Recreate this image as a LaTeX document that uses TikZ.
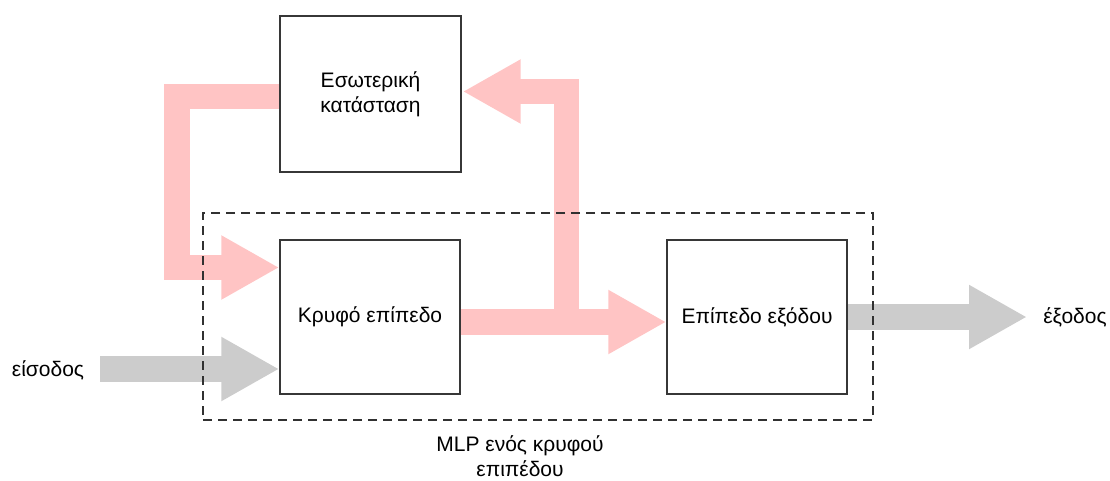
\documentclass[tikz,border=0pt]{standalone}
\usepackage{fontspec}
\setmainfont{Liberation Sans}
\usetikzlibrary{arrows.meta,calc,backgrounds}
\definecolor{flowpink}{RGB}{255,196,196}
\definecolor{flowgray}{RGB}{204,204,204}
\definecolor{edge}{RGB}{55,55,55}
\tikzset{
  block/.style={draw=edge,line width=1.4pt,fill=white,inner sep=0pt,
    align=center,font=\fontsize{21}{25}\selectfont},
  label/.style={inner sep=0pt,align=center,font=\fontsize{21}{25}\selectfont},
  mlpframe/.style={draw=edge!90!black,line width=1.3pt,dash pattern=on 9pt off 6pt,inner sep=0pt},
  fatarrow/.style={line width=25.5pt,line join=miter,
    -{Triangle[length=58pt,width=60pt]}},
  pinkflow/.style={fatarrow,draw=flowpink},
  grayflow/.style={fatarrow,draw=flowgray}
}
\begin{document}
\begin{tikzpicture}[x=1pt,y=-1pt]
  \useasboundingbox (0,0) rectangle (1110,480);

  % blocks
  \node[block,minimum width=181pt,minimum height=156pt] (state) at (370.5,94)
    {Εσωτερική\\κατάσταση};
  \node[block,minimum width=180pt,minimum height=154pt] (hidden) at (370,317)
    {Κρυφό επίπεδο};
  \node[block,minimum width=180pt,minimum height=154pt] (output) at (757,317)
    {Επίπεδο εξόδου};

  % the MLP frame around both layers
  \node[mlpframe,minimum width=670pt,minimum height=207pt] (mlp) at (538,316.5) {};
  \node[label] (mlplabel) at (520,456) {MLP ενός κρυφού\\επιπέδου};

  % external input and output
  \node[label] (intext) at (48,370) {είσοδος};
  \node[label] (outtext) at (1075,317) {έξοδος};
  \coordinate (instart) at (100,369);
  \coordinate (outend) at (1027,317);

  % bends of the recurrent paths
  \coordinate (loopL) at (177,96.5);
  \coordinate (loopB) at (177,267.5);
  \coordinate (branchB) at (566.5,322);
  \coordinate (branchT) at (566.5,91.5);

  \begin{scope}[on background layer]
    % state fed back into the hidden layer
    \draw[pinkflow] ($(state.west)+(0,2.5)$) -- (loopL) -- (loopB)
      -- ($(hidden.west)+(0,-49.5)$);
    % hidden layer to output layer
    \draw[pinkflow] ($(hidden.east)+(0,5)$) -- ($(output.west)+(0,5)$);
    % hidden layer copied into the state
    \draw[pinkflow] (branchB) -- (branchT) -- ($(state.east)+(1,-2.5)$);
    % input and output
    \draw[grayflow] (instart) -- ($(hidden.west)+(0,52)$);
    \draw[grayflow] (output.east) -- (outend);
  \end{scope}
\end{tikzpicture}
\end{document}
